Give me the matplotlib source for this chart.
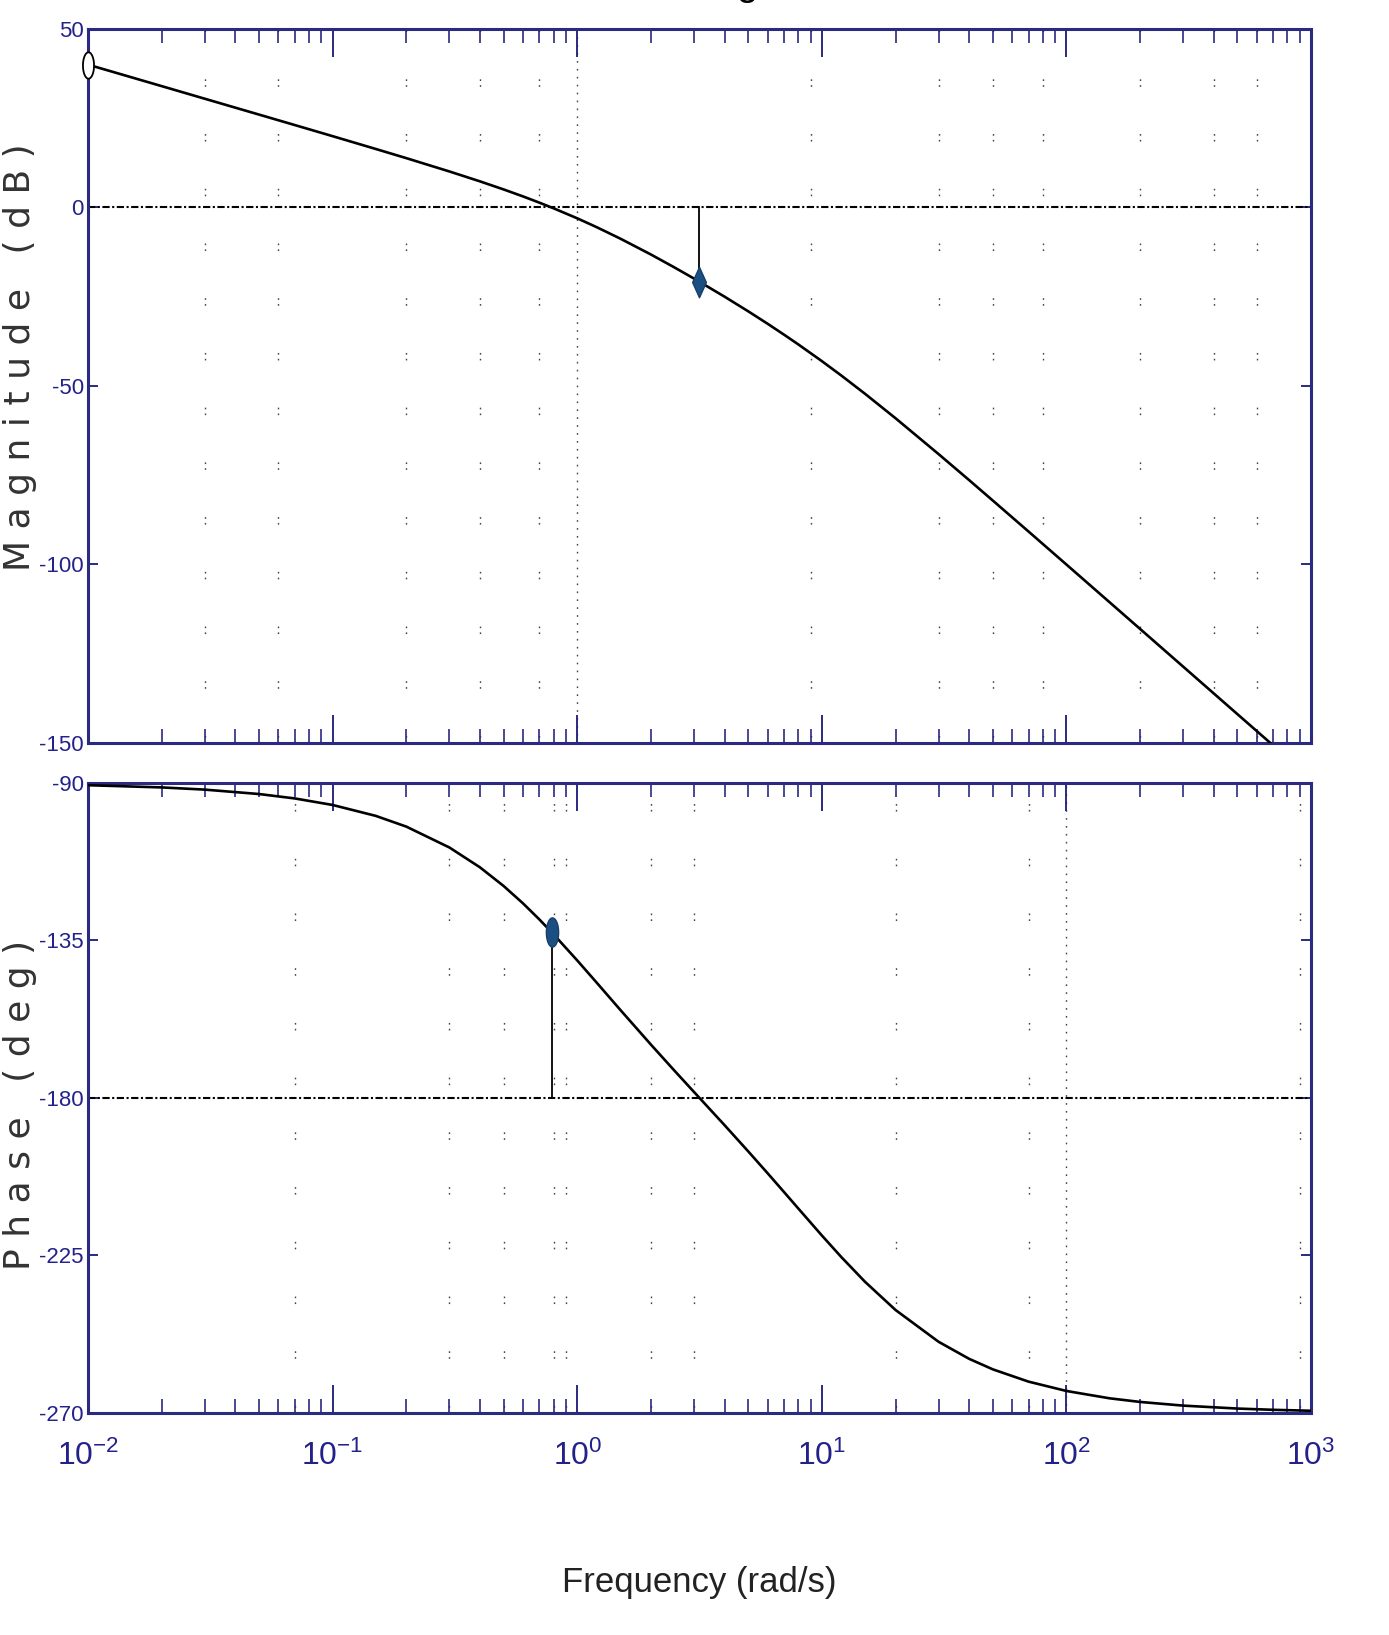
import numpy as np
import matplotlib
matplotlib.use("Agg")
import matplotlib.pyplot as plt
from matplotlib.ticker import LogLocator, FuncFormatter, NullFormatter, FixedLocator

# Bode diagram values
freq = [0.01, 0.02, 0.03, 0.05, 0.07, 0.1, 0.15, 0.2, 0.3, 0.4, 0.5, 0.6, 0.7, 0.8,
        1, 1.2, 1.5, 2, 2.5, 3, 4, 5, 6, 7, 8, 10, 12, 15, 20, 30, 40, 50, 70,
        100, 150, 200, 300, 500, 700, 1000]
mag_db = [40.0, 33.98, 30.45, 26.01, 23.08, 19.96, 16.38, 13.81, 10.08, 7.31, 5.04,
          3.09, 1.34, -0.24, -3.05, -5.52, -8.74, -13.18, -16.83, -19.92, -24.99,
          -29.10, -32.58, -35.63, -38.34, -43.05, -47.07, -52.18, -59.04, -69.09,
          -76.38, -82.11, -90.79, -100.04, -110.58, -118.07, -128.63, -141.94,
          -150.70, -160.0]
phase_deg = [-90.63, -91.26, -91.89, -93.15, -94.41, -96.28, -99.39, -102.46, -108.42,
             -114.09, -119.43, -124.39, -128.99, -133.23, -140.71, -147.03, -154.84,
             -164.74, -172.24, -178.27, -187.76, -195.26, -201.50, -206.86, -211.53,
             -219.29, -225.43, -232.50, -240.57, -249.66, -254.53, -257.54, -261.05,
             -263.72, -265.81, -266.85, -267.90, -268.74, -269.10, -269.37]

# stability margins
gm_freq, gm_db = 3.16, -20.8
pm_freq, pm_phase = 0.786, -132.7
start_freq, start_db = 0.01, 40.0

mag_ticks = [50, 0, -50, -100, -150]
phase_ticks = [-90, -135, -180, -225, -270]

# vertical grid lines that show in the picture
mag_grid = [0.03, 0.06, 0.2, 0.4, 0.7, 9, 30, 50, 80, 200, 400, 600]
mag_grid_major = [1]
phase_grid = [0.07, 0.3, 0.5, 0.8, 0.9, 2, 3, 20, 70, 900]
phase_grid_major = [100]

plt.rcParams["font.family"] = ["Liberation Sans", "DejaVu Sans"]
plt.rcParams["axes.unicode_minus"] = False

AX_COL = "#2a2a80"
TXT_COL = "#22228a"

# tall narrow markers (the picture is stretched vertically)
t = np.linspace(0, 2 * np.pi, 50)
ellipse = list(zip(0.42 * np.cos(t), np.sin(t)))
diamond = [(0, 1), (0.45, 0), (0, -1), (-0.45, 0), (0, 1)]

fig = plt.figure(figsize=(13.89, 16.35), dpi=100)
ax1 = fig.add_axes([0.0634, 0.5456, 0.8805, 0.4367])
ax2 = fig.add_axes([0.0634, 0.1358, 0.8805, 0.3853])


def style_axes(ax, show_xlabels):
    ax.set_xscale("log")
    ax.set_xlim(1e-2, 1e3)
    for s in ax.spines.values():
        s.set_color(AX_COL)
        s.set_linewidth(2.2)
    ax.xaxis.set_major_locator(LogLocator(base=10, numticks=10))
    ax.xaxis.set_minor_locator(LogLocator(base=10, subs=np.arange(2, 10), numticks=20))
    ax.xaxis.set_minor_formatter(NullFormatter())
    if show_xlabels:
        ax.xaxis.set_major_formatter(
            FuncFormatter(lambda v, p: r"$\mathregular{10^{%d}}$" % round(np.log10(v))))
    else:
        ax.xaxis.set_major_formatter(NullFormatter())
    ax.tick_params(axis="x", which="major", direction="in", top=True, bottom=True,
                   length=20, width=1.4, color=AX_COL, labelcolor=TXT_COL,
                   labelsize=23, pad=20)
    ax.tick_params(axis="x", which="minor", direction="in", top=True, bottom=True,
                   length=10, width=1.2, color=AX_COL)
    ax.tick_params(axis="y", which="major", direction="in", left=True, right=True,
                   length=7, width=1.4, color=AX_COL, labelcolor=TXT_COL,
                   labelsize=16, pad=3)


def draw_grid(ax, sparse, dense):
    for g in sparse:
        ax.axvline(g, color="#444444", lw=1.0, dashes=(1.2, 3, 1.2, 34), zorder=1)
    for g in dense:
        ax.axvline(g, color="#444444", lw=1.0, dashes=(1.2, 4.5), zorder=1)


# ---- magnitude ----
style_axes(ax1, False)
ax1.set_ylim(-150, 50)
ax1.yaxis.set_major_locator(FixedLocator(mag_ticks))
draw_grid(ax1, mag_grid, mag_grid_major)
ax1.axhline(0, color="black", lw=1.5, dashes=(3.5, 1.2, 1, 1.2), zorder=2)
ax1.plot(freq, mag_db, color="black", lw=1.9, zorder=3)
ax1.plot([gm_freq, gm_freq], [0, gm_db], color="black", lw=1.3, zorder=3)
ax1.plot(gm_freq, gm_db, marker=diamond, ms=22, color="#1b4f82", mec="#163f6a",
         zorder=4)
ax1.plot(start_freq, start_db, marker=ellipse, ms=19, mfc="white", mec="black",
         mew=1.3, zorder=5, clip_on=False)

# ---- phase ----
style_axes(ax2, True)
ax2.set_ylim(-270, -90)
ax2.yaxis.set_major_locator(FixedLocator(phase_ticks))
draw_grid(ax2, phase_grid, phase_grid_major)
ax2.axhline(-180, color="black", lw=1.5, dashes=(3.5, 1.2, 1, 1.2), zorder=2)
ax2.plot(freq, phase_deg, color="black", lw=1.9, zorder=3)
ax2.plot([pm_freq, pm_freq], [pm_phase, -180], color="black", lw=1.3, zorder=3)
ax2.plot(pm_freq, pm_phase, marker=ellipse, ms=21, color="#1b4f82", mec="#163f6a",
         zorder=4)

ax2.set_xlabel("Frequency (rad/s)", fontsize=25, color="#222222", labelpad=68)

fig.text(20 / 1389, 0.7817, "M a g n i t u d e   ( d B )", rotation=90,
         ha="center", va="center", fontsize=26, color="#333333",
         family="DejaVu Sans")
fig.text(20 / 1389, 0.324, "P h a s e   ( d e g )", rotation=90,
         ha="center", va="center", fontsize=26, color="#333333",
         family="DejaVu Sans")

# title sits above the picture, only its descender shows
fig.text(0.505, 1.0 + 5 / 1635, "Bode Diagram", ha="center", va="baseline",
         fontsize=28, color="black")

fig.savefig("out.png", dpi=100)
